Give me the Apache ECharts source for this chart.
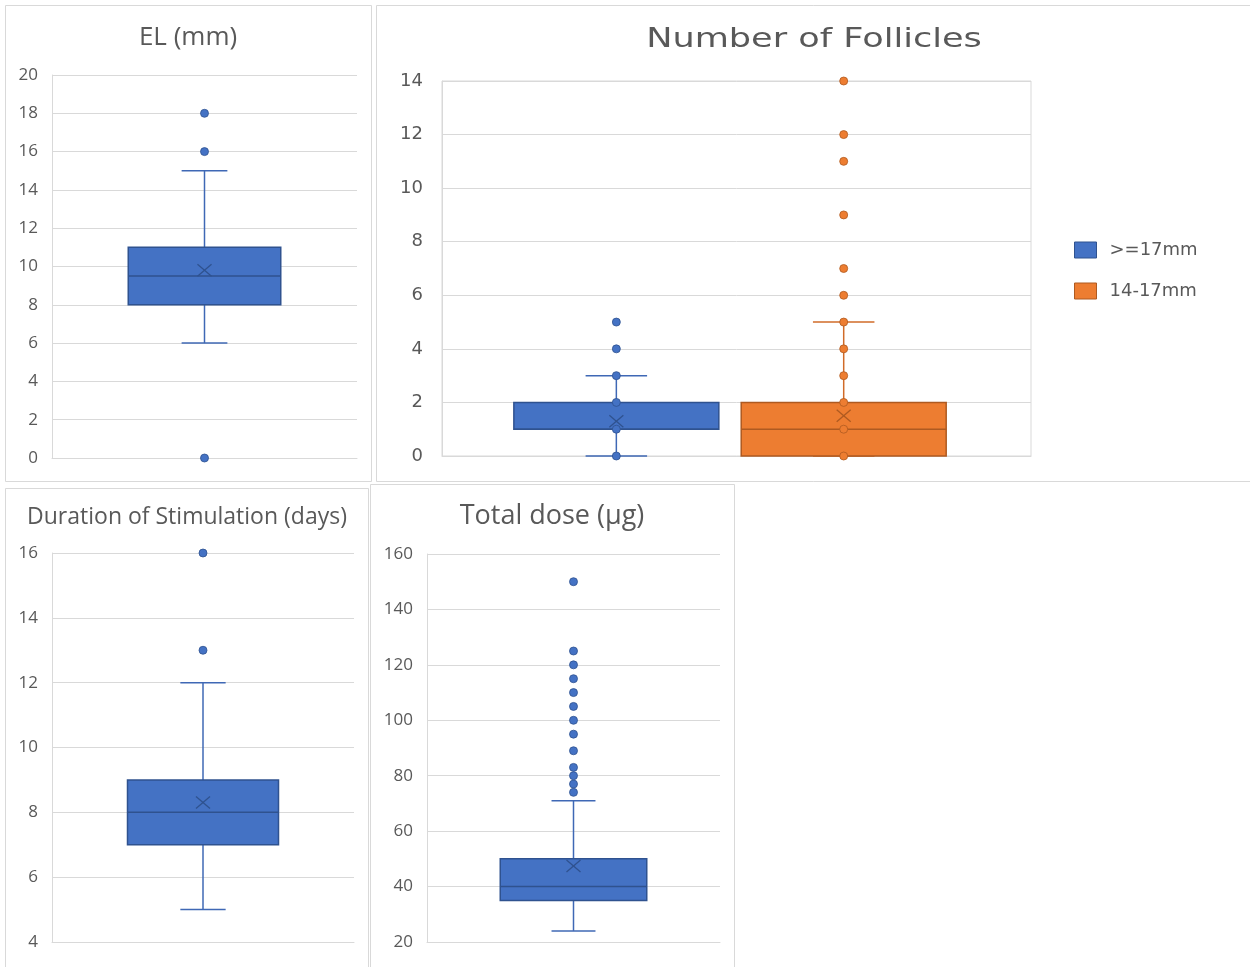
<!DOCTYPE html>
<html><head><meta charset="utf-8">
<script src="https://cdn.jsdelivr.net/npm/echarts@6/dist/echarts.min.js"></script>
<style>html,body{margin:0;padding:0;background:#fff}#c{width:1250px;height:967px}</style>
</head><body><div id="c"></div>
<script>
// ---------- DATA ----------
const boxCategory = [''];

// EL (mm): [min, q1, median, q3, max]
const elBox = [6, 8, 9.5, 11, 15];
const elMean = 9.8;
const elOutliers = [0, 16, 18];
const elAxis = [0, 20, 2]; // min, max, interval

// Number of Follicles
const follNames = ['>=17mm', '14-17mm'];
const follBoxLarge = [0, 1, 1, 2, 3];
const follMeanLarge = 1.3;
const follInnerLarge = [0, 1, 2, 3];
const follOutLarge = [4, 5];
const follBoxMid = [0, 0, 1, 2, 5];
const follMeanMid = 1.5;
const follInnerMid = [0, 1, 2, 3, 4, 5];
const follOutMid = [6, 7, 9, 11, 12, 14];
const follAxis = [0, 14, 2];

// Duration of Stimulation (days)
const durBox = [5, 7, 8, 9, 12];
const durMean = 8.3;
const durOutliers = [13, 16];
const durAxis = [4, 16, 2];

// Total dose (µg)
const doseBox = [24, 35, 40, 50, 71];
const doseMean = 47.4;
const doseOutliers = [74, 77, 80, 83, 89, 95, 100, 105, 110, 115, 120, 125, 150];
const doseAxis = [20, 160, 20];

const titles = ['EL (mm)', 'Number of Follicles', 'Duration of Stimulation (days)', 'Total dose (µg)'];

// ---------- STYLE ----------
const BLUE = {fill: '#4472C4', border: '#2F528F', whisker: '#3F68B5', mean: '#2F528F', offset: 0, width: 0.5};
const ORANGE = {fill: '#ED7D31', border: '#AE5A21', whisker: '#D06B29', mean: '#AE5A21', offset: 0, width: 0.5};
const GRID_C = '#d9d9d9';
const TXT = '#595959';
const F1 = "'Open Sans', 'Noto Sans', sans-serif";
const F2 = "'DejaVu Sans', sans-serif";

function boxSeries(name, idx, box, mean, st) {
  return {
    type: 'custom', name: name, xAxisIndex: idx, yAxisIndex: idx, z: 3,
    itemStyle: {color: st.fill},
    data: [[0].concat(box, [mean])],
    renderItem: function (params, api) {
      const band = api.size([1, 0])[0];
      const cx = api.coord([0, api.value(1)])[0] + st.offset * band;
      const bw = band * st.width, cw = bw * 0.3;
      const y = function (i) { return api.coord([0, api.value(i)])[1]; };
      const yMin = y(1), yQ1 = y(2), yMed = y(3), yQ3 = y(4), yMax = y(5), yMean = y(6);
      const wl = {stroke: st.whisker, lineWidth: 1.5};
      const hx = 7, hy = 6;
      return {type: 'group', children: [
        {type: 'line', shape: {x1: cx, y1: yQ3, x2: cx, y2: yMax}, style: wl},
        {type: 'line', shape: {x1: cx - cw / 2, y1: yMax, x2: cx + cw / 2, y2: yMax}, style: wl},
        {type: 'line', shape: {x1: cx, y1: yQ1, x2: cx, y2: yMin}, style: wl},
        {type: 'line', shape: {x1: cx - cw / 2, y1: yMin, x2: cx + cw / 2, y2: yMin}, style: wl},
        {type: 'rect', shape: {x: cx - bw / 2, y: yQ3, width: bw, height: yQ1 - yQ3},
          style: {fill: st.fill, stroke: st.border, lineWidth: 1.5}},
        {type: 'line', shape: {x1: cx - bw / 2, y1: yMed, x2: cx + bw / 2, y2: yMed},
          style: {stroke: st.border, lineWidth: 1.5}},
        {type: 'line', shape: {x1: cx - hx, y1: yMean - hy, x2: cx + hx, y2: yMean + hy},
          style: {stroke: st.mean, lineWidth: 1.3}},
        {type: 'line', shape: {x1: cx - hx, y1: yMean + hy, x2: cx + hx, y2: yMean - hy},
          style: {stroke: st.mean, lineWidth: 1.3}}
      ]};
    }
  };
}

function pointSeries(idx, values, st, r) {
  return {
    type: 'custom', xAxisIndex: idx, yAxisIndex: idx, z: 4, silent: true,
    data: values.map(function (v) { return [0, v]; }),
    renderItem: function (params, api) {
      const band = api.size([1, 0])[0];
      const p = api.coord([0, api.value(1)]);
      return {type: 'circle', shape: {cx: p[0] + st.offset * band, cy: p[1], r: r},
        style: {fill: st.fill, stroke: st.border, lineWidth: 0.8}};
    }
  };
}

const grids = [
  {left: 52, top: 75, width: 305, height: 383},
  {left: 442, top: 81, width: 589, height: 375, show: true, borderColor: GRID_C, borderWidth: 1},
  {left: 52, top: 553, width: 302, height: 389},
  {left: 427, top: 554, width: 293, height: 388}
];
const axes = [elAxis, follAxis, durAxis, doseAxis];
const fonts = [F1, F2, F1, F1];
const sizes = [17, 18, 17, 17];
const margins = [14, 19, 14, 14];
const padTop = [2, 4, 2, 2];

const xAxes = grids.map(function (g, i) {
  return {type: 'category', gridIndex: i, data: boxCategory,
    axisLine: {show: true, lineStyle: {color: GRID_C}}, axisTick: {show: false}, axisLabel: {show: false}};
});
const yAxes = axes.map(function (a, i) {
  return {type: 'value', gridIndex: i, min: a[0], max: a[1], interval: a[2],
    axisLine: {show: true, lineStyle: {color: GRID_C}}, axisTick: {show: false},
    splitLine: {show: true, lineStyle: {color: GRID_C, width: 1}},
    axisLabel: {color: TXT, fontSize: sizes[i], fontFamily: fonts[i], margin: margins[i],
      padding: [padTop[i], 0, 0, 0]}};
});

const BL = Object.assign({}, BLUE, {offset: -0.204, width: 0.348});
const OR = Object.assign({}, ORANGE, {offset: 0.182, width: 0.348});

const series = [
  boxSeries('EL', 0, elBox, elMean, BLUE),
  pointSeries(0, elOutliers, BLUE, 4),
  boxSeries(follNames[0], 1, follBoxLarge, follMeanLarge, BL),
  boxSeries(follNames[1], 1, follBoxMid, follMeanMid, OR),
  pointSeries(1, follInnerLarge, BL, 4),
  pointSeries(1, follOutLarge, BL, 4),
  pointSeries(1, follInnerMid, OR, 4),
  pointSeries(1, follOutMid, OR, 4),
  boxSeries('Duration', 2, durBox, durMean, BLUE),
  pointSeries(2, durOutliers, BLUE, 4),
  boxSeries('Dose', 3, doseBox, doseMean, BLUE),
  pointSeries(3, doseOutliers, BLUE, 4)
];

function panel(x, y, w, h) {
  return {type: 'rect', shape: {x: x, y: y, width: w, height: h}, silent: true,
    style: {fill: null, stroke: GRID_C, lineWidth: 1}, z: -1};
}
function titleText(t, x, y, size, font, sx) {
  return {type: 'text', x: x, y: y, scaleX: sx || 1, silent: true,
    style: {text: t, fill: TXT, font: size + 'px ' + font, textAlign: 'center', textVerticalAlign: 'middle'}};
}

const option = {
  animation: false,
  backgroundColor: '#fff',
  grid: grids,
  xAxis: xAxes,
  yAxis: yAxes,
  legend: {
    orient: 'vertical', left: 1074, top: 241, padding: 0, itemWidth: 22, itemHeight: 16, itemGap: 23,
    selectedMode: false,
    textStyle: {color: TXT, fontSize: 18, fontFamily: F2, padding: [0, 0, 0, 8]},
    data: [
      {name: follNames[0], icon: 'rect', itemStyle: {color: BLUE.fill, borderColor: BLUE.border, borderWidth: 1}},
      {name: follNames[1], icon: 'rect', itemStyle: {color: ORANGE.fill, borderColor: ORANGE.border, borderWidth: 1}}
    ]
  },
  graphic: [
    panel(5.5, 5.5, 366, 476),
    panel(376.5, 5.5, 890, 476),
    panel(5.5, 488.5, 363, 500),
    panel(370.5, 484.5, 364, 500),
    titleText(titles[0], 188, 38, 26, F1),
    titleText(titles[1], 814, 40, 27, F2, 1.3),
    titleText(titles[2], 187, 517, 23, F1),
    titleText(titles[3], 552, 516, 27, F1)
  ],
  series: series
};

const chart = echarts.init(document.getElementById('c'), null, {renderer: 'canvas'});
chart.setOption(option);
</script>
</body></html>
